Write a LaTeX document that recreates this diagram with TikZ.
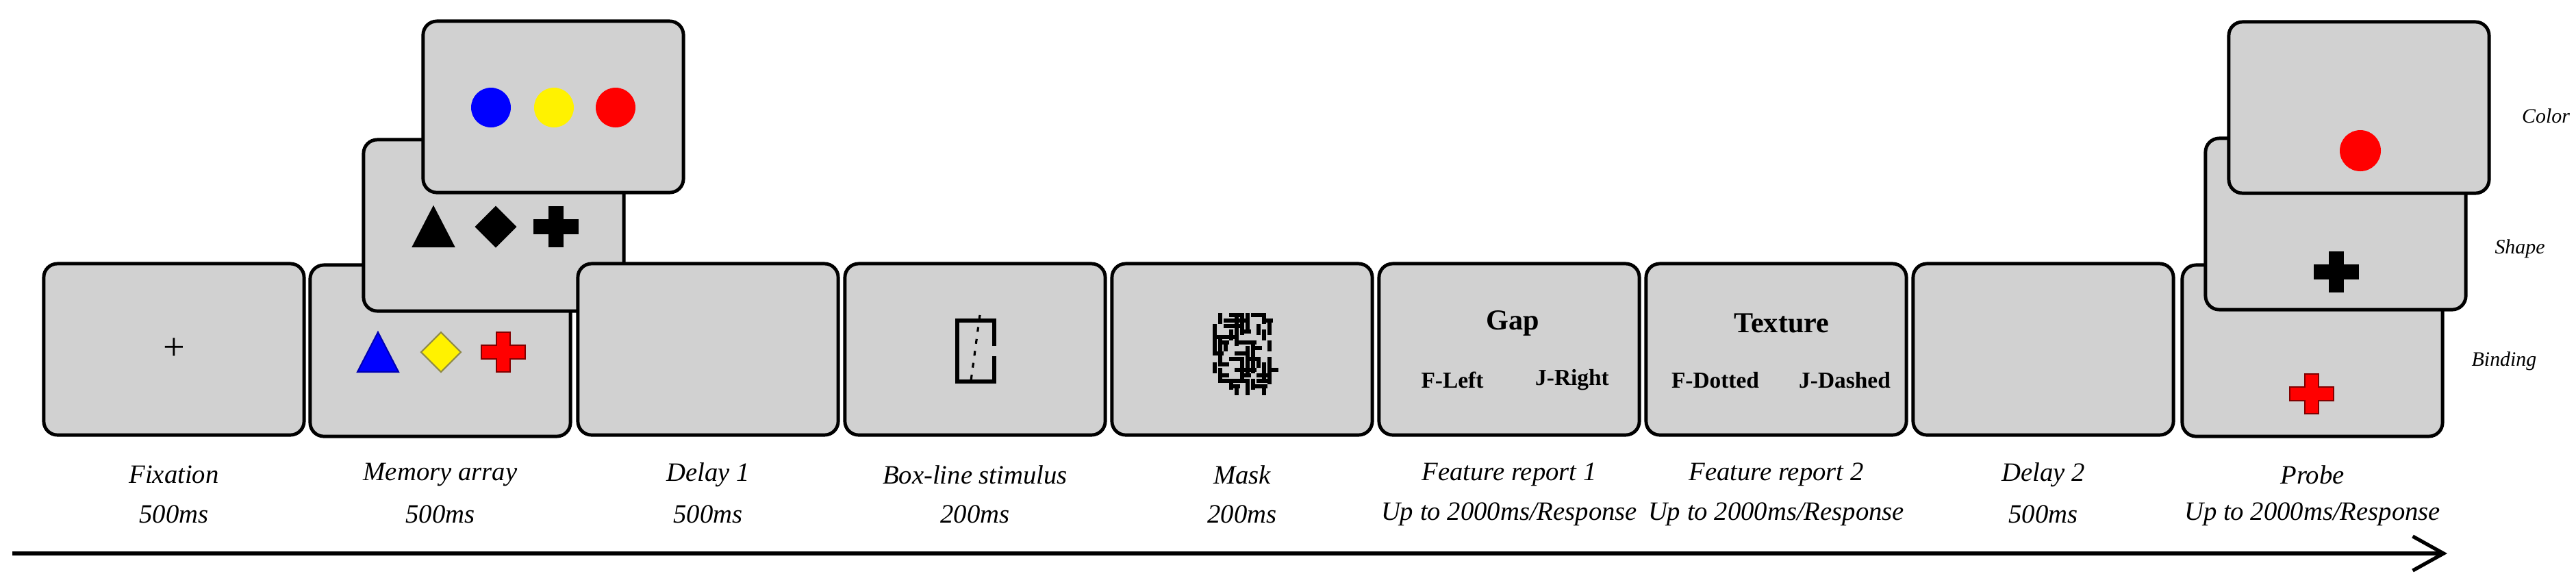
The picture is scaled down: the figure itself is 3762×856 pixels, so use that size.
\documentclass[tikz,border=0pt]{standalone}
\usepackage{fontspec}
\setmainfont{Liberation Serif}
\usetikzlibrary{arrows.meta}
\begin{document}
\begin{tikzpicture}[x=0.01cm,y=-0.01cm,
  scr/.style={draw=black,line width=1.4pt,fill=black!18,rounded corners=0.2cm,minimum width=3.8cm,minimum height=2.5cm,inner sep=0pt},
  lab/.style={font=\fontsize{11}{13}\selectfont\itshape,inner sep=0pt},
  side/.style={font=\fontsize{8.5}{10}\selectfont\itshape,inner sep=0pt},
  key/.style={font=\fontsize{9.5}{11}\selectfont\bfseries,inner sep=0pt},
  ttl/.style={font=\fontsize{12}{14}\selectfont\bfseries,inner sep=0pt}]
\useasboundingbox (0,0) rectangle (3762,856);
% crosses and shapes
\newcommand{\mycross}[4]{\fill[#3,draw=#4,line width=0.6pt] (#1-32,#2-10)--(#1-10,#2-10)--(#1-10,#2-29)--(#1+10,#2-29)--(#1+10,#2-10)--(#1+32,#2-10)--(#1+32,#2+10)--(#1+10,#2+10)--(#1+10,#2+29)--(#1-10,#2+29)--(#1-10,#2+10)--(#1-32,#2+10)--cycle;}
\newcommand{\mytri}[4]{\fill[#3,draw=#4,line width=0.6pt] (#1-30,#2+29)--(#1,#2-29)--(#1+30,#2+29)--cycle;}
\newcommand{\mydia}[4]{\fill[#3,draw=#4,line width=0.6pt] (#1-29,#2)--(#1,#2-29)--(#1+29,#2)--(#1,#2+29)--cycle;}
% Fixation
\node[scr] (fix) at (254,510) {};
\node[font=\fontsize{16}{16}\selectfont] (fixp) at (fix.center) {+};
% Memory array
\node[scr] (mem) at (643,512) {};
\mytri{552}{514}{blue}{blue!70!black}
\mydia{644}{514}{yellow}{yellow!50!black}
\mycross{735}{514}{red}{red!50!black}
\node[scr] (memshape) at (721,329) {};
\mytri{633}{331}{black}{black}
\mydia{724}{331}{black}{black}
\mycross{812}{331}{black}{black}
\node[scr] (memcol) at (808,156) {};
\fill[blue] (717,157) circle (29);
\fill[yellow] (809,157) circle (29);
\fill[red] (899,157) circle (29);
% Delay 1
\node[scr] (d1) at (1034,510) {};
% Box-line
\node[scr] (bl) at (1424,510) {};
\draw[line width=1.6pt] (1452,505)--(1452,468)--(1398,468)--(1398,557)--(1452,557)--(1452,520);
\draw[line width=0.9pt,dash pattern=on 2pt off 3pt] (1431,460)--(1417,563);
% Mask
\node[scr] (mask) at (1814,510) {};
\pgfmathsetseed{11}
\foreach \i in {0,...,10}{\foreach \j in {0,...,13}{
  \pgfmathsetmacro{\r}{rnd}
  \ifdim\r pt<0.45pt
    \pgfmathsetmacro{\w}{rnd<0.5?16:6}
    \pgfmathsetmacro{\h}{\w>10?6:16}
    \fill[black] (1771+\i*8,457+\j*8) rectangle ++(\w,\h);
  \fi}}
% Feature report 1
\node[scr] (fr1) at (2204,510) {};
\node[ttl] (gap) at (2209,472) {Gap};
\node[key] (fl) at (2121,555) {F-Left};
\node[key] (jr) at (2296,555) {J-Right};
% Feature report 2
\node[scr] (fr2) at (2594,510) {};
\node[ttl] (tex) at (2602,472) {Texture};
\node[key] (fd) at (2505,555) {F-Dotted};
\node[key] (jd) at (2694,555) {J-Dashed};
% Delay 2
\node[scr] (d2) at (2984,510) {};
% Probe
\node[scr] (pb) at (3377,512) {};
\mycross{3376}{575}{red}{red!50!black}
\node[scr] (pbs) at (3411,327) {};
\mycross{3412}{397}{black}{black}
\node[scr] (pbc) at (3445,157) {};
\fill[red] (3447,220) circle (30);
\node[side] (lc) at (3718,169) {Color};
\node[side] (ls) at (3680,363) {Shape};
\node[side] (lb) at (3657,527) {Binding};
% labels
\foreach \n/\x/\a/\b in {l1/254/Fixation/500ms, l2/643/Memory array/500ms, l3/1034/Delay 1/500ms, l4/1424/Box-line stimulus/200ms, l5/1814/Mask/200ms, l6/2204/Feature report 1/Up to 2000ms\slash Response, l7/2594/Feature report 2/Up to 2000ms\slash Response, l8/2984/Delay 2/500ms, l9/3377/Probe/Up to 2000ms\slash Response}{
  \node[lab] (\n a) at (\x,693) {\a};
  \node[lab] (\n b) at (\x,751) {\b};}
% time arrow
\coordinate (as) at (18,808);
\coordinate (ae) at (3574,808);
\draw[line width=1.5pt,-{Straight Barb[length=0.45cm,width=0.5cm,line width=1.5pt]}] (as)--(ae);
\end{tikzpicture}
\end{document}
